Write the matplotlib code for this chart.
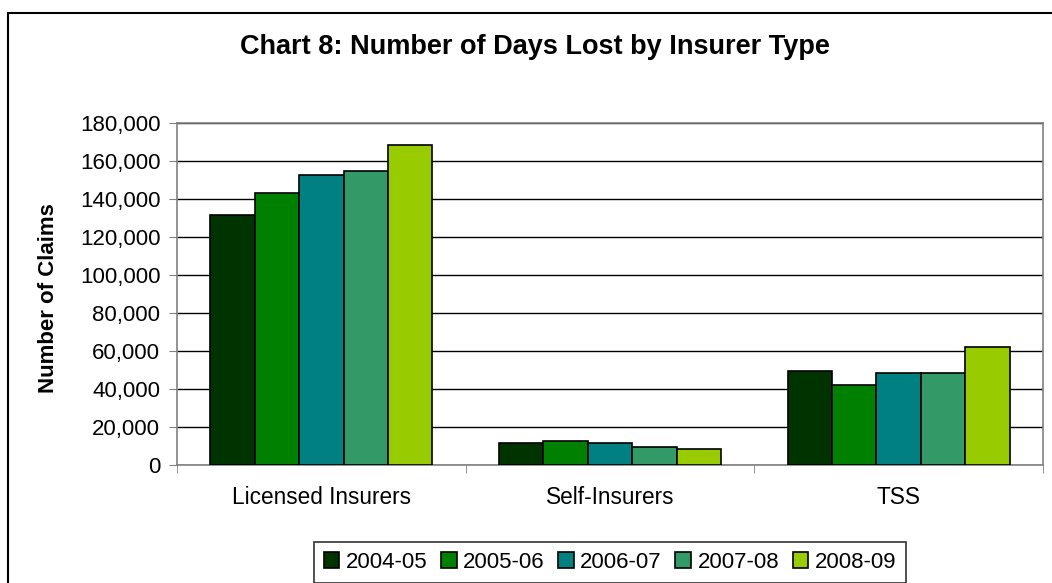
import matplotlib.pyplot as plt
import numpy as np
from matplotlib.patches import Rectangle
from matplotlib.ticker import FuncFormatter

plt.rcParams['font.family'] = ['Liberation Sans', 'DejaVu Sans']

categories = ['Licensed Insurers', 'Self-Insurers', 'TSS']
years = ['2004-05', '2005-06', '2006-07', '2007-08', '2008-09']
days_lost = {
    '2004-05': [131500, 11700, 49500],
    '2005-06': [143200, 12600, 41900],
    '2006-07': [152600, 11600, 48600],
    '2007-08': [154700, 9500, 48600],
    '2008-09': [168400, 8400, 62100],
}
colors = ['#003300', '#008000', '#008080', '#339966', '#99CC00']

W, H = 1052, 583
fig = plt.figure(figsize=(W / 100, H / 100), dpi=100)
ax = fig.add_axes([177 / W, 1 - 465 / H, (1043 - 177) / W, (465 - 123) / H])

x = np.arange(len(categories))
bw = 1 / (len(years) + 1.5)
for i, (yr, c) in enumerate(zip(years, colors)):
    ax.bar(x + (i - 2) * bw, days_lost[yr], bw, color=c, edgecolor='black',
           linewidth=1.2, label=yr, zorder=3)

ax.set_xlim(-0.5, 2.5)
ax.set_ylim(0, 180000)
ax.set_yticks(np.arange(0, 180001, 20000))
ax.yaxis.set_major_formatter(FuncFormatter(lambda v, p: f'{int(v):,}'))
ax.grid(axis='y', color='black', linewidth=1, zorder=0)
ax.set_xticks(x)
ax.set_xticklabels(categories, fontsize=16.3)
ax.set_xticks([-0.5, 0.5, 1.5, 2.5], minor=True)
ax.tick_params(axis='x', which='major', length=0, pad=15)
ax.tick_params(axis='x', which='minor', length=6, color='#808080', direction='out')
ax.tick_params(axis='y', labelsize=16, length=6, color='#808080', pad=6)
for s in ax.spines.values():
    s.set_color('#808080')
    s.set_linewidth(1.2)

fig.text(49 / W, 1 - 298 / H, 'Number of Claims', rotation=90, ha='center', va='center',
         fontsize=16, fontweight='bold')
fig.text(535 / W, 1 - 47 / H, 'Chart 8: Number of Days Lost by Insurer Type',
         ha='center', va='center', fontsize=19.5, fontweight='bold')

# outer chart frame (clipped at right and bottom in the reference)
fig.patches.append(Rectangle((7.5 / W, -0.1), 1.2, 1 - 13 / H + 0.1, transform=fig.transFigure,
                             fill=False, edgecolor='black', linewidth=1.5))

leg = fig.legend(loc='center', bbox_to_anchor=(610 / W, 1 - 562 / H), ncol=5,
                 fontsize=16, frameon=True, fancybox=False, edgecolor='black',
                 handlelength=0.7, handleheight=0.7, handletextpad=0.3,
                 columnspacing=0.6, borderpad=0.45, borderaxespad=0)
leg.get_frame().set_linewidth(1.2)

fig.savefig('out.png', dpi=100)
